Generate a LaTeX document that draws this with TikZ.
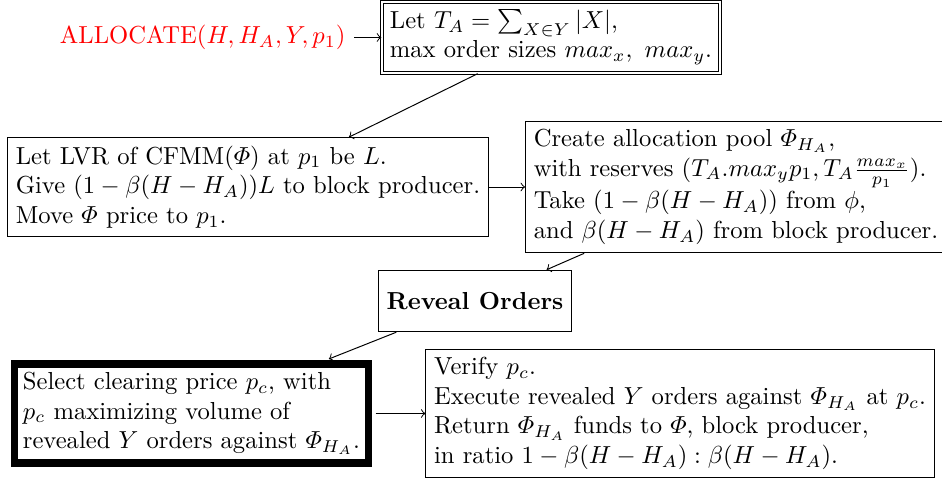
\documentclass[tikz,border=0pt]{standalone}
\usepackage{amsmath}
\usetikzlibrary{positioning}
\begin{document}
\begin{tikzpicture}[x=0.4065pt,y=-0.4065pt,
  box/.style={draw, align=left, inner sep=3.33pt, line width=0.4pt},
  >=to]
\useasboundingbox (0,0) rectangle (942,483);
\node[box, double, double distance=1pt] (top) at (551,37.5)
  {Let $T_A=\sum_{X\in Y}|X|$,\\ max order sizes $max_x,\ max_y$.};
\node[text=red, left=11pt of top, inner sep=3.33pt] (alloc) {ALLOCATE$(H,H_A,Y,p_1)$};
\node[box] (lvr) at (248,187)
  {Let LVR of CFMM($\varPhi$) at $p_1$ be $L$.\\
   Give $(1-\beta(H-H_A))L$ to block producer.\\
   Move $\varPhi$ price to $p_1$.};
\node[box] (create) at (736,187)
  {Create allocation pool $\varPhi_{H_A}$,\\
   with reserves $(T_A.max_yp_1,T_A\frac{max_x}{p_1})$.\\
   Take $(1-\beta(H-H_A))$ from $\phi$,\\
   and $\beta(H-H_A)$ from block producer.};
\node[box, minimum height=25pt] (reveal) at (475,301) {\textbf{Reveal Orders}};
\node[box, line width=3pt] (select) at (191.5,413.5)
  {Select clearing price $p_c$, with\\
   $p_c$ maximizing volume of\\
   revealed $Y$ orders against $\varPhi_{H_A}$.};
\node[box] (verify) at (680,413.5)
  {Verify $p_c$.\\
   Execute revealed $Y$ orders against $\varPhi_{H_A}$ at $p_c$.\\
   Return $\varPhi_{H_A}$ funds to $\varPhi$, block producer,\\
   in ratio $1-\beta(H-H_A):\beta(H-H_A)$.};
\draw[->] (alloc) -- (top);
\draw[->] (top) -- (lvr);
\draw[->] (lvr) -- (create);
\draw[->] (create) -- (reveal);
\draw[->, shorten >=1.5pt] (reveal) -- (select);
\draw[->, shorten <=1.5pt] (select) -- (verify);
\end{tikzpicture}
\end{document}
